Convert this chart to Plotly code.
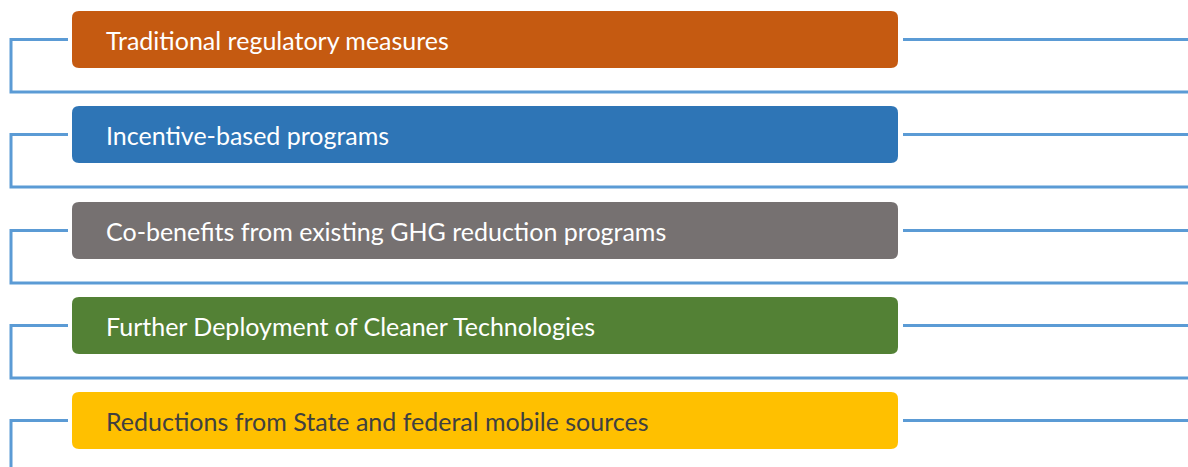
import plotly.graph_objects as go

labels = [
    "Traditional regulatory measures",
    "Incentive-based programs",
    "Co-benefits from existing GHG reduction programs",
    "Further Deployment of Cleaner Technologies",
    "Reductions from State and federal mobile sources",
]
box_colors = ["#C55A11", "#2E75B6", "#767171", "#538135", "#FFC000"]
text_colors = ["#FFFFFF", "#FFFFFF", "#FFFFFF", "#FFFFFF", "#404040"]
box_tops = [11, 106, 202, 297, 392]

W, H = 1188, 467
BOX_L, BOX_R, BOX_H, R = 72, 898, 57, 7
LINE_C = "#5B9BD5"
LW = 3

def rrect(x0, y0, x1, y1, r):
    return (f"M {x0+r},{y0} L {x1-r},{y0} Q {x1},{y0} {x1},{y0+r} "
            f"L {x1},{y1-r} Q {x1},{y1} {x1-r},{y1} L {x0+r},{y1} "
            f"Q {x0},{y1} {x0},{y1-r} L {x0},{y0+r} Q {x0},{y0} {x0+r},{y0} Z")

shapes = []
annotations = []
n = len(labels)
for i, (lab, bc, tc, top) in enumerate(zip(labels, box_colors, text_colors, box_tops)):
    cy = top + BOX_H / 2
    bot_line = top + 81
    if i < n - 1:
        path = f"M {BOX_L-4},{cy} L 11,{cy} L 11,{bot_line} L {W+5},{bot_line}"
    else:
        path = f"M {BOX_L-4},{cy} L 11,{cy} L 11,{H+10}"
    shapes.append(dict(type="path", path=path, line=dict(color=LINE_C, width=LW),
                       xref="x", yref="y", layer="below"))
    shapes.append(dict(type="line", x0=BOX_R + 5, x1=W + 5, y0=cy, y1=cy,
                       line=dict(color=LINE_C, width=LW), xref="x", yref="y"))
    shapes.append(dict(type="path", path=rrect(BOX_L, top, BOX_R, top + BOX_H, R),
                       fillcolor=bc, line=dict(width=0), xref="x", yref="y"))
    annotations.append(dict(x=104, y=cy, xref="x", yref="y", text=lab, showarrow=False,
                            xanchor="left", yanchor="middle",
                            font=dict(family="Lato", size=25, color=tc)))

fig = go.Figure()
fig.add_trace(go.Scatter(x=[0, W], y=[0, H], mode="markers",
                         marker=dict(opacity=0), hoverinfo="skip", showlegend=False))
fig.update_layout(
    width=W, height=H, margin=dict(l=0, r=0, t=0, b=0),
    paper_bgcolor="white", plot_bgcolor="white",
    xaxis=dict(range=[0, W], visible=False, fixedrange=True),
    yaxis=dict(range=[H, 0], visible=False, fixedrange=True),
    shapes=shapes, annotations=annotations,
)
fig.write_html("out.html", config={"displayModeBar": False},
               post_script="document.body.style.margin='0';document.body.style.overflow='hidden';")
